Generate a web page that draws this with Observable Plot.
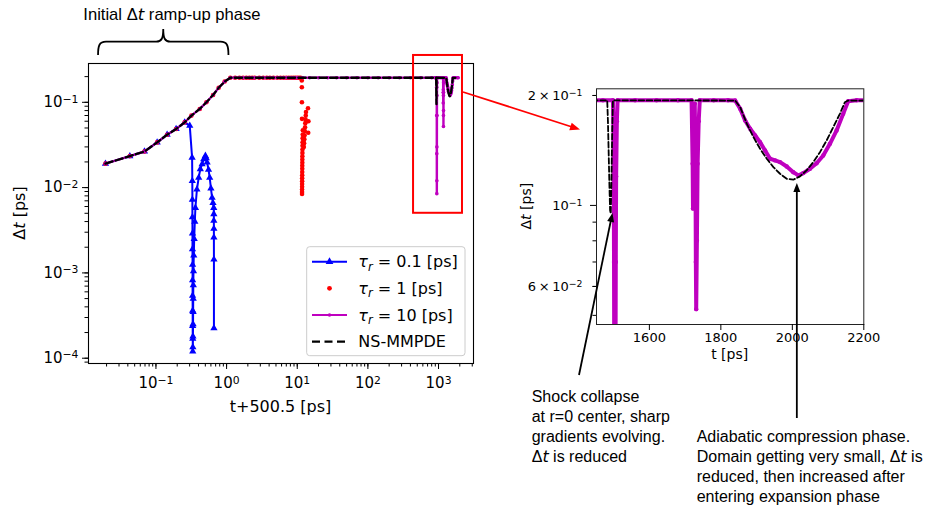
<!DOCTYPE html>
<html><head><meta charset="utf-8">
<script src="https://cdn.jsdelivr.net/npm/d3@7"></script>
<script src="https://cdn.jsdelivr.net/npm/@observablehq/plot@0.6"></script>
<style>
body{margin:0;background:#fff;}
#root{position:relative;width:935px;height:505px;overflow:hidden;background:#fff;}
#left,#right,#over{position:absolute;}
#over{left:0;top:0;pointer-events:none;}
</style></head><body>
<div id="root"><div id="left" style="left:0;top:0"></div><div id="right" style="left:520px;top:60px"></div><svg id="over" width="935" height="505"></svg></div>
<script>
// ---------------- data (left panel x = t+500.5 [ps], y = Δt [ps]) ----------------
const rampX  = [0.0193, 0.0427, 0.0688, 0.104, 0.144, 0.193, 0.255, 0.318, 0.417, 0.518, 0.644, 0.773, 0.94, 1.13];
const rampDt = [0.0191, 0.0234, 0.0265, 0.0339, 0.0417, 0.0487, 0.0582, 0.0698, 0.0836, 0.1, 0.122, 0.148, 0.175, 0.194];
const plateauDt = 0.194;

// tau_r = 0.1 ps (blue)
const blueX  = [0.0193, 0.0427, 0.0688, 0.104, 0.144, 0.193, 0.255, 0.301, 0.325, 0.327, 0.328, 0.328, 0.329, 0.329, 0.33, 0.33, 0.33, 0.331, 0.331, 0.332, 0.332, 0.333, 0.334, 0.335, 0.336, 0.337, 0.338, 0.34, 0.343, 0.348, 0.355, 0.362, 0.38, 0.403, 0.425, 0.45, 0.475, 0.501, 0.515, 0.53, 0.555, 0.577, 0.6, 0.624, 0.642, 0.658, 0.66, 0.66, 0.661, 0.661, 0.662, 0.662];
const blueDt = [0.0191, 0.0234, 0.0265, 0.0339, 0.0417, 0.0487, 0.0582, 0.0532, 0.0225, 0.012, 0.0072, 0.0045, 0.0029, 0.0019, 0.00125, 8.2e-4, 5.4e-4, 3.6e-4, 2.4e-4, 1.7e-4, 1.2e-4, 1.35e-4, 1.8e-4, 2.5e-4, 3.5e-4, 5e-4, 7.2e-4, 0.00105, 0.0016, 0.0025, 0.004, 0.0058, 0.0095, 0.0131, 0.0165, 0.0188, 0.0215, 0.0236, 0.0222, 0.0197, 0.0162, 0.0131, 0.0098, 0.0076, 0.0066, 0.0058, 0.0049, 0.0041, 0.0033, 0.0026, 0.00144, 2.25e-4];

// tau_r = 1 ps (red dots)
const redPlateauX = [1.32, 1.52, 1.71, 1.9, 2.1, 2.3, 2.5, 2.9, 3.3, 3.7, 4.1, 4.6, 5.2, 5.8, 6.4, 7.0, 7.6, 8.2, 8.8, 9.4, 10.0, 10.6, 11.2];
const redClusterX  = [11.6, 11.62, 11.65, 11.68, 11.7, 11.7, 11.7, 11.72, 11.72, 11.74, 11.74, 11.76, 11.76, 11.78, 11.78, 11.8, 11.8, 11.82, 11.84, 11.86, 11.88, 11.9, 11.93, 11.96, 12.0, 12.2, 12.4, 12.5, 12.6, 12.7, 12.8, 12.9, 13.0, 13.1, 13.2, 13.3, 14.3, 14.4, 14.2];
const redClusterDt = [0.18, 0.15, 0.1, 0.064, 0.0084, 0.0089, 0.0095, 0.0102, 0.011, 0.0119, 0.0129, 0.014, 0.0152, 0.0166, 0.018, 0.0196, 0.0214, 0.0233, 0.0255, 0.028, 0.031, 0.034, 0.038, 0.042, 0.047, 0.035, 0.03, 0.033, 0.037, 0.041, 0.046, 0.051, 0.057, 0.063, 0.07, 0.077, 0.044, 0.06, 0.085];

// tau_r = 10 ps (magenta) and NS-MMPDE (black dashed): plateau points (left axis)
const magPlateauX = [1.32, 1.52, 1.71, 1.9, 2.1, 2.3, 2.5, 2.9, 3.3, 3.7, 4.1, 4.6, 5.2, 5.8, 6.4, 7.0, 7.6, 8.2, 8.8, 9.4, 10, 12, 15, 20, 27, 36, 50, 70, 100, 140, 200, 280, 400, 560, 800];
const nsPlateauX  = [2, 10, 100, 800];

// late phase in t [ps] (right panel axis); left panel axis value = t - leftShift as drawn
const leftShift = 557;
const magLateT  = [1440, 1470, 1498, 1500, 1501, 1502, 1503, 1504, 1505, 1506, 1507, 1509, 1511, 1560, 1620, 1680, 1718, 1721, 1722, 1724, 1727, 1729, 1730, 1731, 1733, 1735, 1738, 1741, 1780, 1820, 1840, 1854, 1867.9, 1881.9, 1895.9, 1909.8, 1923.7, 1937.7, 1951.7, 1965.6, 1984.3, 2002.7, 2016.7, 2030.7, 2049.4, 2068, 2086.5, 2105.2, 2123.9, 2142.3, 2156.2, 2180, 2220, 2300, 2400, 2457];
const magLateDt = [0.194, 0.194, 0.194, 0.15, 0.07, 0.025, 0.0085, 0.012, 0.03, 0.07, 0.12, 0.17, 0.194, 0.194, 0.194, 0.194, 0.194, 0.13, 0.098, 0.14, 0.19, 0.12, 0.07, 0.052, 0.08, 0.13, 0.17, 0.194, 0.194, 0.194, 0.1937, 0.1839, 0.1709, 0.1622, 0.1554, 0.149, 0.1414, 0.1342, 0.1328, 0.1314, 0.1278, 0.1233, 0.1208, 0.1226, 0.126, 0.1305, 0.137, 0.1475, 0.1604, 0.1781, 0.1929, 0.194, 0.194, 0.194, 0.194, 0.194];
const nsLateT  = [1440, 1482, 1484, 1486, 1488, 1490, 1492, 1494, 1496, 1498, 1840, 1854, 1872.6, 1891.2, 1909.8, 1928.5, 1947, 1965.6, 1984.3, 2002.8, 2021.4, 2040, 2058.6, 2077.3, 2096, 2114.5, 2133, 2147, 2156, 2457];
const nsLateDt = [0.194, 0.194, 0.17, 0.14, 0.115, 0.097, 0.095, 0.12, 0.16, 0.194, 0.1937, 0.1858, 0.1674, 0.1538, 0.1429, 0.1342, 0.1273, 0.1221, 0.1183, 0.1176, 0.1201, 0.1247, 0.1314, 0.1399, 0.1506, 0.1638, 0.1781, 0.1917, 0.1937, 0.194];

// ticks ("^" separates base and superscript exponent)
const leftXTicks  = [0.1, 1, 10, 100, 1000];
const leftXLabels = ["10^−1", "10^0", "10^1", "10^2", "10^3"];
const leftYTicks  = [1e-4, 1e-3, 1e-2, 1e-1];
const leftYLabels = ["10^−4", "10^−3", "10^−2", "10^−1"];
const rightXTicks = [1600, 1800, 2000, 2200];
const rightYTicks  = [0.06, 0.1, 0.2];
const rightYLabels = ["6\u2009×\u200910^−2", "10^−1", "2\u2009×\u200910^−1"];

const leftXDomain = [0.0111, 3126], leftYDomain = [8.67e-5, 0.285];
const rightXDomain = [1452, 2200], rightYDomain = [0.0472, 0.2086];

// ---------------- build tables ----------------
const pts = (xs, ys) => xs.map((x, i) => ({x, y: ys[i]}));
const ramp = pts(rampX, rampDt);
const blue = pts(blueX, blueDt);
const red = [...ramp, ...redPlateauX.map(x => ({x, y: plateauDt})), ...pts(redClusterX, redClusterDt)];
const magLeft = [...ramp, ...magPlateauX.map(x => ({x, y: plateauDt})), ...magLateT.map((t, i) => ({x: t - leftShift, y: magLateDt[i]}))];
const nsLeft  = [...ramp, ...nsPlateauX.map(x => ({x, y: plateauDt})), ...nsLateT.map((t, i) => ({x: t - leftShift, y: nsLateDt[i]}))];
const magRight = pts(magLateT, magLateDt);
const nsRight  = pts(nsLateT, nsLateDt);

const lookup = (vals, labels) => { const m = new Map(vals.map((v, i) => [v, labels[i]])); return d => m.get(d) ?? ""; };
const BLUE = "#0000ff", RED = "#ff0000", MAG = "#bf00bf";
const AXF = "DejaVu Sans, sans-serif";

function superscripts(svgNode) {
  svgNode.querySelectorAll("text").forEach(t => {
    const s = t.textContent;
    if (!s.includes("^")) return;
    const [base, exp] = s.split("^");
    t.textContent = "";
    const ns = "http://www.w3.org/2000/svg";
    const a = document.createElementNS(ns, "tspan"); a.textContent = base; t.appendChild(a);
    const b = document.createElementNS(ns, "tspan"); b.textContent = exp;
    b.setAttribute("dy", "-0.42em"); b.setAttribute("font-size", "0.72em"); t.appendChild(b);
  });
}

// ---------------- left panel ----------------
const L = {x: 0, y: 0, w: 480, h: 420, ml: 88, mr: 7, mt: 63, mb: 57};
const leftPlot = Plot.plot({
  width: L.w, height: L.h, marginLeft: L.ml, marginRight: L.mr, marginTop: L.mt, marginBottom: L.mb,
  style: {fontFamily: AXF, fontSize: "15px", background: "transparent", overflow: "visible"},
  x: {type: "log", domain: leftXDomain, label: null},
  y: {type: "log", domain: leftYDomain, label: null},
  marks: [
    Plot.line(blue, {x: "x", y: "y", stroke: BLUE, strokeWidth: 2}),
    Plot.dot(blue, {x: "x", y: "y", symbol: "triangle", r: 2.7, fill: BLUE}),
    Plot.dot(red, {x: "x", y: "y", r: 2.3, fill: RED}),
    Plot.line(magLeft, {x: "x", y: "y", stroke: MAG, strokeWidth: 2.4}),
    Plot.dot(magLeft, {x: "x", y: "y", r: 1.8, fill: MAG}),
    Plot.line(nsLeft, {x: "x", y: "y", stroke: "black", strokeWidth: 2.3, strokeDasharray: "7.4,3.2"}),
    Plot.frame({stroke: "black", strokeWidth: 1.1}),
    Plot.axisX(d3.scaleLog().domain(leftXDomain).ticks(), {tickSize: 3.5, tickFormat: () => "", label: null}),
    Plot.axisX(leftXTicks, {tickSize: 6, tickPadding: 8, tickFormat: lookup(leftXTicks, leftXLabels), fontSize: 15, label: null}),
    Plot.axisY(d3.scaleLog().domain(leftYDomain).ticks(), {tickSize: 3.5, tickFormat: () => "", label: null}),
    Plot.axisY(leftYTicks, {tickSize: 6, tickPadding: 4, tickFormat: lookup(leftYTicks, leftYLabels), fontSize: 15, label: null})
  ]
});
superscripts(leftPlot);
document.getElementById("left").append(leftPlot);

// ---------------- right panel ----------------
const R = {x: 520, y: 60, w: 400, h: 310, ml: 76, mr: 56.7, mt: 28.3, mb: 46};
const rightPlot = Plot.plot({
  width: R.w, height: R.h, marginLeft: R.ml, marginRight: R.mr, marginTop: R.mt, marginBottom: R.mb,
  style: {fontFamily: AXF, fontSize: "13px", background: "transparent", overflow: "visible"},
  x: {type: "linear", domain: rightXDomain, label: null},
  y: {type: "log", domain: rightYDomain, label: null},
  marks: [
    Plot.line(magRight, {x: "x", y: "y", stroke: MAG, strokeWidth: 4, clip: true}),
    Plot.dot(magRight, {x: "x", y: "y", r: 2.2, fill: MAG, clip: true}),
    Plot.line(nsRight, {x: "x", y: "y", stroke: "black", strokeWidth: 1.8, strokeDasharray: "5.5,2.6", clip: true}),
    Plot.frame({stroke: "#222", strokeWidth: 1}),
    Plot.axisX(rightXTicks, {tickSize: 6, tickPadding: 2, fontSize: 13, tickFormat: d => String(d), label: null}),
    Plot.axisY(d3.scaleLog().domain(rightYDomain).ticks().filter(v => v !== 0.1), {tickSize: 3.5, tickFormat: () => "", label: null}),
    Plot.axisY([0.1], {tickSize: 6, tickPadding: 8, fontSize: 13, tickFormat: lookup(rightYTicks, rightYLabels), label: null}),
    Plot.axisY([0.06, 0.2], {tickSize: 3.5, tickPadding: 10.5, fontSize: 13, tickFormat: lookup(rightYTicks, rightYLabels), label: null})
  ]
});
superscripts(rightPlot);
document.getElementById("right").append(rightPlot);

// ---------------- overlay annotations ----------------
const toD3 = (s) => (s.type === "log" ? d3.scaleLog() : d3.scaleLinear()).domain(s.domain).range(s.range);
const lx = toD3(leftPlot.scale("x")), ly = toD3(leftPlot.scale("y"));
const rx = toD3(rightPlot.scale("x")), ry = toD3(rightPlot.scale("y"));
const LX = v => L.x + lx(v), LY = v => L.y + ly(v);
const RX = v => R.x + rx(v), RY = v => R.y + ry(v);

const svg = d3.select("#over");
const ANF = "Liberation Sans, Arial, sans-serif";

function richText(g, x, y, str, opts = {}) {
  const t = g.append("text").attr("x", x).attr("y", y)
    .attr("font-family", opts.family || ANF).attr("font-size", opts.size || 16)
    .attr("fill", "black").attr("text-anchor", opts.anchor || "start");
  if (opts.transform) t.attr("transform", opts.transform);
  str.split("*").forEach((part, i) => {
    if (!part) return;
    const ts = t.append("tspan").text(part);
    if (i % 2 === 1) ts.attr("font-style", "italic").attr("font-family", "DejaVu Sans, sans-serif");
  });
  return t;
}
function arrow(x1, y1, x2, y2, color, w, hl, hw) {
  const dx = x2 - x1, dy = y2 - y1, Ln = Math.hypot(dx, dy), ux = dx / Ln, uy = dy / Ln;
  const bx = x2 - ux * hl, by = y2 - uy * hl;
  svg.append("line").attr("x1", x1).attr("y1", y1).attr("x2", bx + ux * 1).attr("y2", by + uy * 1)
    .attr("stroke", color).attr("stroke-width", w);
  svg.append("path").attr("d", `M${x2},${y2}L${bx - uy * hw},${by + ux * hw}L${bx + uy * hw},${by - ux * hw}Z`).attr("fill", color);
}

// axis labels
richText(svg, 0, 0, "Δ*t* [ps]", {family: AXF, size: 16, anchor: "middle"})
  .attr("transform", `translate(24.5,${(L.y + L.mt + L.h - L.mb) / 2}) rotate(-90)`);
richText(svg, (L.ml + L.w - L.mr) / 2, 411.5, "t+500.5 [ps]", {family: AXF, size: 16, anchor: "middle"});
richText(svg, 0, 0, "Δ*t* [ps]", {family: AXF, size: 14, anchor: "middle"})
  .attr("transform", `translate(531,${R.y + (R.mt + R.h - R.mb) / 2}) rotate(-90)`);
richText(svg, R.x + (R.ml + R.w - R.mr) / 2, 359, "t [ps]", {family: AXF, size: 14, anchor: "middle"});

// legend
const lg = svg.append("g");
lg.append("rect").attr("x", 306.7).attr("y", 246.7).attr("width", 158.3).attr("height", 109).attr("rx", 3)
  .attr("fill", "white").attr("fill-opacity", 0.8).attr("stroke", "#cccccc").attr("stroke-width", 1);
const rows = [
  {y: 261.7, label: "0.1", kind: "blue"},
  {y: 288.3, label: "1", kind: "red"},
  {y: 315, label: "10", kind: "mag"},
  {y: 341.7, label: null, kind: "ns"}
];
rows.forEach(r => {
  if (r.kind === "blue") {
    lg.append("line").attr("x1", 312).attr("x2", 347).attr("y1", r.y).attr("y2", r.y).attr("stroke", BLUE).attr("stroke-width", 2);
    lg.append("path").attr("d", d3.symbol(d3.symbolTriangle, 26)()).attr("transform", `translate(329.5,${r.y})`).attr("fill", BLUE);
  } else if (r.kind === "red") {
    lg.append("circle").attr("cx", 329.5).attr("cy", r.y).attr("r", 2.4).attr("fill", RED);
  } else if (r.kind === "mag") {
    lg.append("line").attr("x1", 312).attr("x2", 347).attr("y1", r.y).attr("y2", r.y).attr("stroke", MAG).attr("stroke-width", 2.2);
    lg.append("circle").attr("cx", 329.5).attr("cy", r.y).attr("r", 1.8).attr("fill", MAG);
  } else {
    lg.append("line").attr("x1", 312).attr("x2", 347).attr("y1", r.y).attr("y2", r.y).attr("stroke", "black").attr("stroke-width", 2.3).attr("stroke-dasharray", "8,4.5");
  }
  const t = lg.append("text").attr("x", 358.3).attr("y", r.y + 5.5).attr("font-family", AXF).attr("font-size", 16).attr("fill", "black");
  if (r.label === null) { t.text("NS-MMPDE"); return; }
  t.append("tspan").attr("font-style", "italic").text("τ");
  t.append("tspan").attr("font-style", "italic").attr("font-size", 11.5).attr("dy", 3.5).text("r");
  t.append("tspan").attr("dy", -3.5).text(` = ${r.label} [ps]`);
});

// red zoom box + arrow
const bx0 = LX(443), bx1 = LX(2183), by0 = LY(0.354), by1 = LY(0.005);
svg.append("rect").attr("x", bx0).attr("y", by0).attr("width", bx1 - bx0).attr("height", by1 - by0)
  .attr("fill", "none").attr("stroke", RED).attr("stroke-width", 2);
arrow(bx1 + 1, 92, 580, 129.5, RED, 1.8, 10, 4);

// brace over ramp-up phase
const b0 = LX(0.0154), b1 = LX(1.08), bm = (b0 + b1) / 2;
svg.append("path").attr("d",
  `M${b0},55 C${b0},46 ${b0+1},41.7 ${b0+8},41.7 L${bm-7},41.7 C${bm-1.5},41.7 ${bm},38 ${bm},29 C${bm},38 ${bm+1.5},41.7 ${bm+7},41.7 L${b1-8},41.7 C${b1-1},41.7 ${b1},46 ${b1},55`)
  .attr("fill", "none").attr("stroke", "black").attr("stroke-width", 1.8);
richText(svg, 83.3, 19.5, "Initial Δ*t* ramp-up phase", {size: 16.6});

// annotation texts and arrows
["Shock collapse", "at r=0 center, sharp", "gradients evolving.", "Δ*t* is reduced"]
  .forEach((s, i) => richText(svg, 531.7, 401.7 + 20 * i, s, {size: 16}));
["Adiabatic compression phase.", "Domain getting very small, Δ*t* is", "reduced, then increased after", "entering expansion phase"]
  .forEach((s, i) => richText(svg, 696.7, 441.7 + 20 * i, s, {size: 16}));
arrow(579, 375, RX(1498), RY(0.0951), "black", 1.8, 9, 3.5);
arrow(RX(2014), 418, RX(2014), RY(0.1149), "black", 1.8, 9, 3.5);
</script></body></html>
